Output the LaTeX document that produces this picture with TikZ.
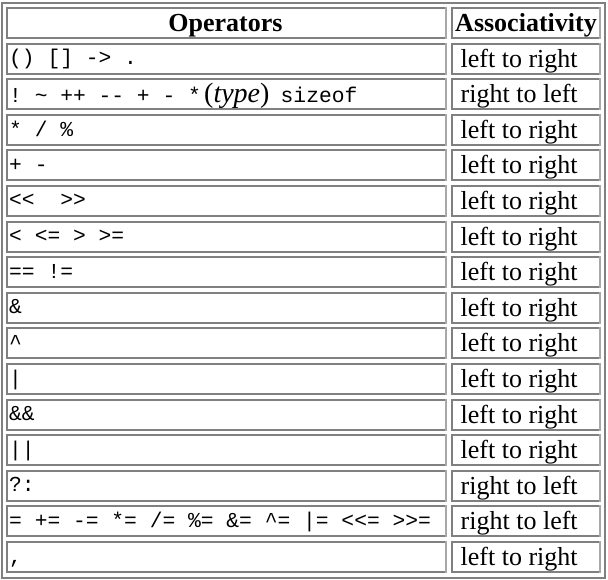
\documentclass[tikz,border=0pt]{standalone}
\usepackage{fontspec}
\setmainfont{Liberation Serif}
\setmonofont{Liberation Mono}
\definecolor{bord}{HTML}{808080}
\definecolor{bordlt}{HTML}{A8A8A8}
\begin{document}
\begin{tikzpicture}[x=1pt,y=-1pt,
  mono/.style={font=\fontsize{21.3}{24}\selectfont\ttfamily, inner sep=0pt, anchor=base west},
  serif/.style={font=\fontsize{26}{30}\selectfont, inner sep=0pt, anchor=base west},
  typefont/.style={font=\fontsize{28}{30}\selectfont, inner sep=0pt, anchor=base west},
  head/.style={font=\fontsize{26}{30}\selectfont\bfseries, inner sep=0pt, anchor=base},
  dk/.style={draw=bord, line width=2pt},
  lt/.style={draw=bordlt, line width=2pt}]
\useasboundingbox (0,0) rectangle (608,580);
\fill[white] (0,0) rectangle (608,580);
\draw[dk] (2,3) rectangle (605,578);
\foreach \k in {0,...,15} {
  \pgfmathsetmacro\t{8+35.6*\k}
  \pgfmathsetmacro\b{38+35.6*\k}
  \draw[lt] (446,\t-1) -- (446,\b+1);
  \draw[dk] (445,\t) -- (7,\t) -- (7,\b) -- (445,\b);
  \draw[lt] (600,\t-1) -- (600,\b+1);
  \draw[dk] (599,\t) -- (452,\t) -- (452,\b) -- (599,\b);
}
% header
\node[head] (hop) at (225.5,31.5) {Operators};
\node[head] (has) at (526,31.5) {Associativity};
% operators
\node[mono] (op1) at (9,64.6) {() [] -{}> .};
\node[mono] (op2a) at (9,102.5) {! \textasciitilde{} +{}+ -{}- + - *};
\node[typefont] (op2b) at (204,102.5) {(\textit{type})};
\node[mono] (op2c) at (280.5,102.5) {sizeof};
\node[mono] (op3) at (9,136.3) {* / \%};
\node[mono] (op4) at (9,171.4) {+ -};
\node[mono] (op5) at (9,207) {<{}<\ \ >{}>};
\node[mono] (op6) at (9,242.6) {< <= > >=};
\node[mono] (op7) at (9,278.2) {== !=};
\node[mono] (op8) at (9,313.8) {\&};
\node[mono] (op9) at (9,349.4) {\textasciicircum};
\node[mono] (op10) at (9,385) {\textbar};
\node[mono] (op11) at (9,420.6) {\&\&};
\node[mono] (op12) at (9,456.2) {\textbar\textbar};
\node[mono] (op13) at (9,491.8) {?:};
\node[mono] (op14) at (9,527.4) {= +{}= -{}= *= /= \%= \&= \textasciicircum= \textbar= <{}<= >{}>=};
\node[mono] (op15) at (9,563) {,};
% associativity
\node[serif] (as1) at (460.5,67.1) {left to right};
\node[serif] (as2) at (460.5,102.7) {right to left};
\node[serif] (as3) at (460.5,138.3) {left to right};
\node[serif] (as4) at (460.5,173.9) {left to right};
\node[serif] (as5) at (460.5,209.5) {left to right};
\node[serif] (as6) at (460.5,245.1) {left to right};
\node[serif] (as7) at (460.5,280.7) {left to right};
\node[serif] (as8) at (460.5,316.3) {left to right};
\node[serif] (as9) at (460.5,351.9) {left to right};
\node[serif] (as10) at (460.5,387.5) {left to right};
\node[serif] (as11) at (460.5,423.1) {left to right};
\node[serif] (as12) at (460.5,458.7) {left to right};
\node[serif] (as13) at (460.5,494.3) {right to left};
\node[serif] (as14) at (460.5,529.9) {right to left};
\node[serif] (as15) at (460.5,565.5) {left to right};
\end{tikzpicture}
\end{document}
